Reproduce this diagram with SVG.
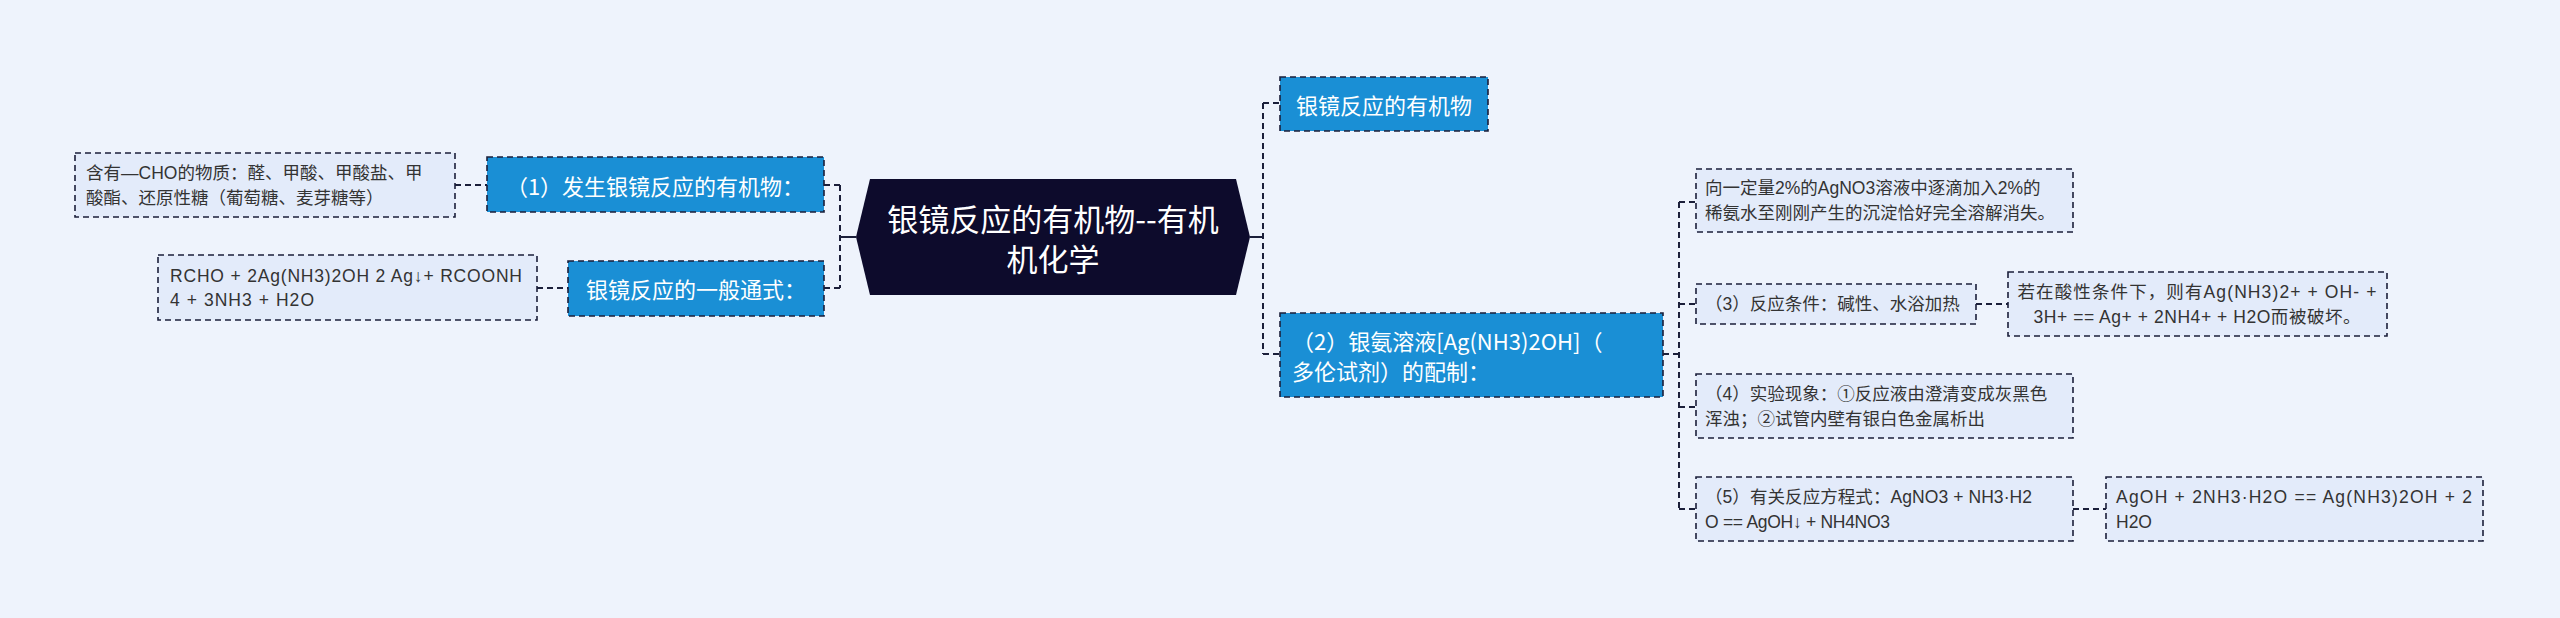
<svg xmlns="http://www.w3.org/2000/svg" width="2560" height="618" viewBox="0 0 2560 618">
<style>
.bg{fill:#eef3fc}
.node{fill:#1a8fd5;stroke:#1b1f3a;stroke-width:1.6;stroke-dasharray:6 4}
.leaf{fill:#e3ebfa;stroke:#1b1f3a;stroke-width:1.6;stroke-dasharray:6 4}
.root{fill:#0d0b2c}
.t{font-family:"Noto Sans CJK SC","Noto Sans",sans-serif;dominant-baseline:central}
.tw{fill:#ffffff;font-size:22px}
.tl{fill:#333333;font-size:17.5px;font-family:"Liberation Sans","Noto Sans CJK SC",sans-serif}
.tr{fill:#ffffff;font-size:31px}
.c{fill:none;stroke:#1b1f3a;stroke-width:2;stroke-dasharray:6 4}
.cs{fill:none;stroke:#1b1f3a;stroke-width:2}
</style>
<rect class="bg" x="0" y="0" width="2560" height="618"/>
<g id="connectors">
<path class="cs" d="M856 237H840"/>
<path class="c" d="M840 185V288M824 185H840M824 288H840"/>
<path class="c" d="M455 185H487M537 288H568"/>
<path class="cs" d="M1250 237H1263"/>
<path class="c" d="M1263 103V354M1263 103H1280M1263 354H1280"/>
<path class="c" d="M1663 354H1679M1679 202V509M1679 202H1696M1679 304H1696M1679 407H1696M1679 509H1696"/>
<path class="c" d="M1976 304H2008M2073 509H2106"/>
</g>
<g id="root">
<polygon class="root" points="856,237 870,179 1236,179 1250,237 1236,295 870,295"/>
<text class="t tr" x="1053" y="217" text-anchor="middle">银镜反应的有机物--有机</text>
<text class="t tr" x="1053" y="257" text-anchor="middle">机化学</text>
</g>
<g id="n1">
<rect class="node" x="487" y="157" width="337" height="55"/>
<text class="t tw" x="655" y="185" text-anchor="middle">（1）发生银镜反应的有机物：</text>
</g>
<g id="n1leaf">
<rect class="leaf" x="75" y="153" width="380" height="64"/>
<text class="t tl" x="86" y="173">含有—CHO的物质：醛、甲酸、甲酸盐、甲</text>
<text class="t tl" x="86" y="198">酸酯、还原性糖（葡萄糖、麦芽糖等）</text>
</g>
<g id="n2">
<rect class="node" x="568" y="261" width="256" height="55"/>
<text class="t tw" x="696" y="288" text-anchor="middle">银镜反应的一般通式：</text>
</g>
<g id="n2leaf">
<rect class="leaf" x="158" y="255" width="379" height="65"/>
<text class="t tl" x="170" y="276" textLength="352">RCHO + 2Ag(NH3)2OH 2 Ag↓+ RCOONH</text>
<text class="t tl" x="170" y="300" textLength="144">4 + 3NH3 + H2O</text>
</g>
<g id="n3">
<rect class="node" x="1280" y="77" width="208" height="54"/>
<text class="t tw" x="1384" y="104" text-anchor="middle">银镜反应的有机物</text>
</g>
<g id="n4">
<rect class="node" x="1280" y="313" width="383" height="84"/>
<text class="t tw" x="1292" y="340">（2）银氨溶液[Ag(NH3)2OH]（</text>
<text class="t tw" x="1292" y="370">多伦试剂）的配制：</text>
</g>
<g id="n4a">
<rect class="leaf" x="1696" y="169" width="377" height="63"/>
<text class="t tl" x="1705" y="188">向一定量2%的AgNO3溶液中逐滴加入2%的</text>
<text class="t tl" x="1705" y="213">稀氨水至刚刚产生的沉淀恰好完全溶解消失。</text>
</g>
<g id="n4b">
<rect class="leaf" x="1696" y="284" width="280" height="40"/>
<text class="t tl" x="1705" y="304">（3）反应条件：碱性、水浴加热</text>
</g>
<g id="n4bleaf">
<rect class="leaf" x="2008" y="272" width="379" height="64"/>
<text class="t tl" x="2197" y="292" text-anchor="middle" textLength="359">若在酸性条件下，则有Ag(NH3)2+ + OH- +</text>
<text class="t tl" x="2197" y="317" text-anchor="middle" textLength="327">3H+ == Ag+ + 2NH4+ + H2O而被破坏。</text>
</g>
<g id="n4c">
<rect class="leaf" x="1696" y="374" width="377" height="64"/>
<text class="t tl" x="1705" y="394">（4）实验现象：①反应液由澄清变成灰黑色</text>
<text class="t tl" x="1705" y="419">浑浊；②试管内壁有银白色金属析出</text>
</g>
<g id="n4d">
<rect class="leaf" x="1696" y="477" width="377" height="64"/>
<text class="t tl" x="1705" y="497" textLength="327">（5）有关反应方程式：AgNO3 + NH3·H2</text>
<text class="t tl" x="1705" y="522" textLength="185">O == AgOH↓ + NH4NO3</text>
</g>
<g id="n4dleaf">
<rect class="leaf" x="2106" y="477" width="377" height="64"/>
<text class="t tl" x="2116" y="497" textLength="356">AgOH + 2NH3·H2O == Ag(NH3)2OH + 2</text>
<text class="t tl" x="2116" y="522">H2O</text>
</g>
</svg>
